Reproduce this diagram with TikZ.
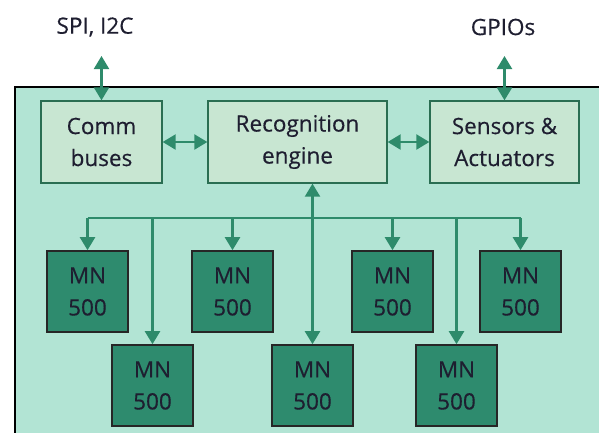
\documentclass[tikz,border=0pt]{standalone}
\usepackage{fontspec}
\setmainfont[FakeBold=0.4]{Open Sans}
\usetikzlibrary{arrows.meta, positioning}
\definecolor{chipfill}{HTML}{B2E4D4}
\definecolor{unitfill}{HTML}{C8E6D2}
\definecolor{unitline}{HTML}{2A6E52}
\definecolor{wirecol}{HTML}{2E8B6B}
\definecolor{mnfill}{HTML}{2E8B6E}
\definecolor{textcol}{HTML}{1E1E30}
\tikzset{x=1pt, y=-1pt,
    >={Triangle[width=15pt,length=13pt]},
    wire/.style={draw=wirecol, line width=2.2pt},
    chip/.style={fill=chipfill, draw=black, line width=1.8pt},
    unit/.style={rectangle, draw=unitline, fill=unitfill, line width=1.3pt,
        minimum height=82pt, align=center, inner sep=0pt, text=textcol,
        font=\fontsize{22.5}{32}\selectfont},
    mn/.style={rectangle, draw=black!85, fill=mnfill, line width=1.6pt,
        minimum width=81pt, minimum height=81pt, align=center, inner sep=0pt,
        text=textcol, font=\fontsize{22.5}{32}\selectfont},
    extlabel/.style={text=textcol, font=\fontsize{22.5}{24}\selectfont}}
\begin{document}
\begin{tikzpicture}
\useasboundingbox (0,0) rectangle (599,432);
\path[chip] (15,87) rectangle (640,470);
% top row
\node[unit, minimum width=121pt] (comm) at (101.5,142) {Comm\\buses};
\node[unit, minimum width=179pt] (eng)  at (297.5,142) {Recognition\\engine};
\node[unit, minimum width=149pt] (sens) at (504.5,142) {Sensors \&\\Actuators};
\node[extlabel] (spi)   at (95,27)  {SPI, I2C};
\node[extlabel] (gpio)  at (503,27) {GPIOs};
\coordinate (spiend)  at (101.5,56);
\coordinate (gpioend) at (504.5,56);
% neurons
\node[mn] (mn1) at (87.5,291.5)  {MN\\500};
\node[mn] (mn2) at (232.5,291.5) {MN\\500};
\node[mn] (mn3) at (392.5,291.5) {MN\\500};
\node[mn] (mn4) at (520.5,291.5) {MN\\500};
\node[mn] (mn5) at (152.5,385.5) {MN\\500};
\node[mn] (mn6) at (312.5,385.5) {MN\\500};
\node[mn] (mn7) at (456.5,385.5) {MN\\500};
\coordinate (bus) at (0,218);
% links
\draw[wire, <->] (spiend) -- (comm);
\draw[wire, <->] (gpioend) -- (sens);
\draw[wire, <->] (comm) -- (eng);
\draw[wire, <->] (eng) -- (sens);
\draw[wire] (mn1.north |- bus) -- (mn4.north |- bus);
\draw[wire, <->] (eng.south -| mn6.north) -- (mn6.north);
\foreach \n in {mn1,mn2,mn3,mn4,mn5,mn7}
    \draw[wire, ->] (\n.north |- bus) -- (\n.north);
\end{tikzpicture}
\end{document}
